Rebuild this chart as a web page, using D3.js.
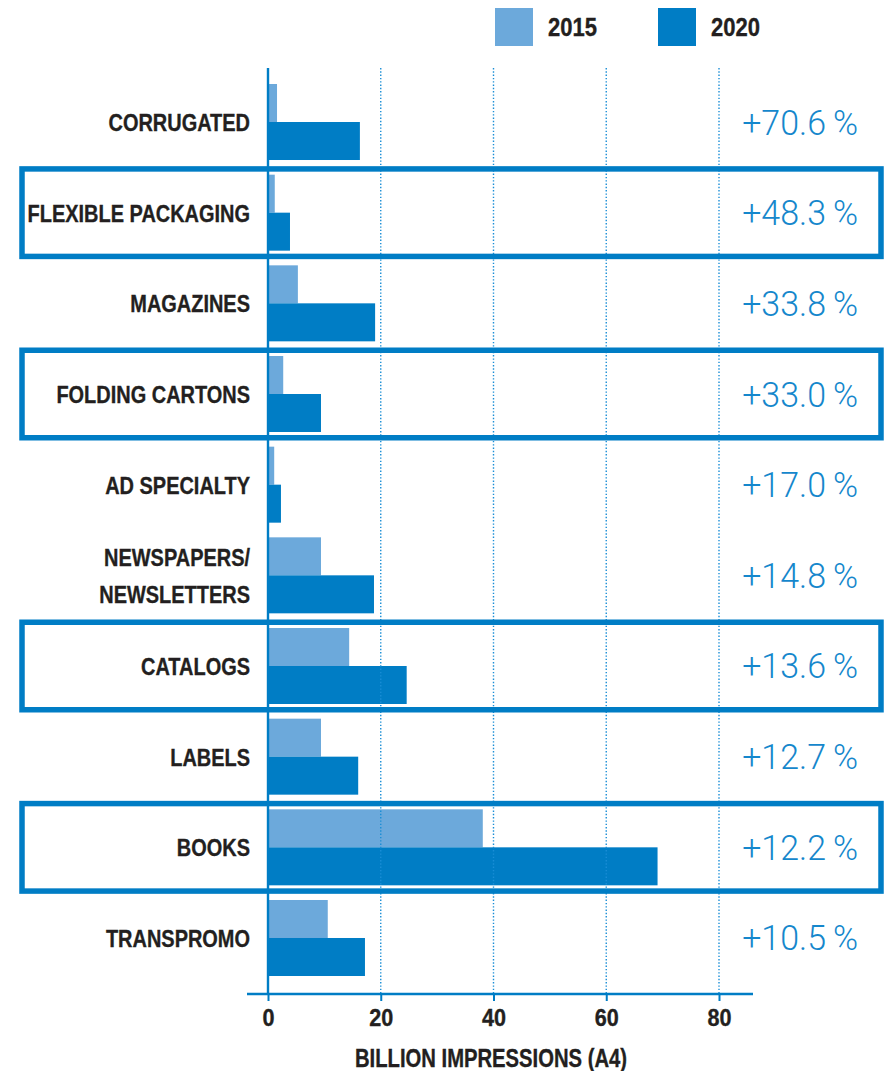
<!DOCTYPE html>
<html>
<head>
<meta charset="utf-8">
<script src="https://cdn.jsdelivr.net/npm/d3@7/dist/d3.min.js"></script>
<style>
  html, body { margin: 0; padding: 0; background: #fff; }
  svg { display: block; }
</style>
</head>
<body>
<script>
// ---- Data ----
const categories = ["CORRUGATED", "FLEXIBLE PACKAGING", "MAGAZINES", "FOLDING CARTONS", "AD SPECIALTY",
  "NEWSPAPERS/\nNEWSLETTERS", "CATALOGS", "LABELS", "BOOKS", "TRANSPROMO"];
const values2015 = [1.6, 1.2, 5.3, 2.7, 1.1, 9.4, 14.4, 9.4, 38.1, 10.6];
const values2020 = [16.3, 3.9, 19.0, 9.4, 2.3, 18.8, 24.6, 16.0, 69.1, 17.2];
const growth = ["+70.6\u2009%", "+48.3\u2009%", "+33.8\u2009%", "+33.0\u2009%", "+17.0\u2009%",
  "+14.8\u2009%", "+13.6\u2009%", "+12.7\u2009%", "+12.2\u2009%", "+10.5\u2009%"];
const highlighted = ["FLEXIBLE PACKAGING", "FOLDING CARTONS", "CATALOGS", "BOOKS"];
const seriesNames = ["2015", "2020"];
const xTicks = [0, 20, 40, 60, 80];
const axisTitle = "BILLION IMPRESSIONS (A4)";

// ---- Styles ----
const LIGHT = "#6ca9db", DARK = "#007dc5", TEXT = "#231f20", PCT = "#1587cc";
const BOLD = "'Liberation Sans', Arial, sans-serif";
const LIGHTFONT = "Roboto, 'Liberation Sans', sans-serif";

const W = 890, H = 1071;
const svg = d3.select("body").append("svg").attr("width", W).attr("height", H);

// condensed text helper: horizontal scale applied around the anchor point
function ctext(parent, tx, ty, sx, anchor) {
  return parent.append("g").attr("transform", `translate(${tx},${ty}) scale(${sx},1)`)
    .append("text").attr("x", 0).attr("y", 0).attr("text-anchor", anchor);
}
function boldText(sel, size) {
  return sel.attr("font-family", BOLD).attr("font-weight", "bold").attr("font-size", size)
    .attr("fill", TEXT).attr("stroke", TEXT).attr("stroke-width", 0.35);
}

const x = d3.scaleLinear().domain([0, 80]).range([268, 719]);
const y = d3.scaleBand().domain(categories).range([76.67, 983.33]).padding(0);
const step = y.step();
const sub = d3.scaleBand().domain(seriesNames).range([step / 2 - 38, step / 2 + 38]).padding(0);

const rows = categories.map((c, i) => ({ c, v: [values2015[i], values2020[i]], g: growth[i] }));

// bars
const rowG = svg.append("g").selectAll("g").data(rows).join("g")
  .attr("transform", d => `translate(0,${y(d.c)})`);
rowG.selectAll("rect").data(d => seriesNames.map((s, j) => ({ s, v: d.v[j] }))).join("rect")
  .attr("x", x(0))
  .attr("y", d => sub(d.s))
  .attr("width", d => x(d.v) - x(0))
  .attr("height", sub.bandwidth())
  .attr("fill", d => d.s === "2015" ? LIGHT : DARK);

// gridlines (dotted)
svg.append("g").selectAll("line").data(xTicks.filter(t => t > 0)).join("line")
  .attr("x1", d => x(d)).attr("x2", d => x(d))
  .attr("y1", 68).attr("y2", 994)
  .attr("stroke", "#1a8ed6").attr("stroke-width", 1.4)
  .attr("stroke-dasharray", "1.4,1.9");

// highlight boxes
svg.append("g").selectAll("rect").data(highlighted).join("rect")
  .attr("x", 22).attr("width", 881 - 22)
  .attr("y", d => y(d) + step / 2 - 43.75)
  .attr("height", 87.5)
  .attr("fill", "none").attr("stroke", DARK).attr("stroke-width", 5.5);

// vertical axis line
svg.append("line").attr("x1", x(0)).attr("x2", x(0)).attr("y1", 68).attr("y2", 994)
  .attr("stroke", DARK).attr("stroke-width", 2.4);

// x axis
const xAxis = d3.axisBottom(x).tickValues(xTicks).tickSize(7).tickFormat("").tickSizeOuter(0);
const ax = svg.append("g").attr("transform", "translate(0,994)").call(xAxis);
ax.select(".domain").remove();
ax.append("line").attr("x1", 247).attr("x2", 753).attr("y1", 0).attr("y2", 0)
  .attr("stroke", DARK).attr("stroke-width", 2.4);
ax.selectAll(".tick line").attr("stroke", DARK).attr("stroke-width", 2);
ax.selectAll(".tick").each(function (d) {
  boldText(ctext(d3.select(this), 0, 32, 0.9, "middle"), 24).text(d);
});

boldText(ctext(svg, 491, 1067, 0.81, "middle"), 25).text(axisTitle);

// category labels
rowG.each(function (d) {
  const lines = d.c.split("\n");
  const lh = 37;
  lines.forEach((ln, k) => {
    boldText(ctext(d3.select(this), 250, step / 2 + 8.9 + (k - (lines.length - 1) / 2) * lh, 0.815, "end"), 24.5)
      .text(ln);
  });
});

// growth labels
rowG.each(function (d) {
  ctext(d3.select(this), 858, step / 2 + 12.5, 0.97, "end")
    .attr("font-family", LIGHTFONT).attr("font-weight", 300).attr("font-size", 35).attr("fill", PCT)
    .text(d.g);
});

// legend
const legX = [495, 658];
const leg = svg.append("g").selectAll("g").data(seriesNames).join("g")
  .attr("transform", (d, i) => `translate(${legX[i]},8)`);
leg.append("rect").attr("width", 38).attr("height", 38)
  .attr("fill", d => d === "2015" ? LIGHT : DARK);
leg.each(function (d) {
  boldText(ctext(d3.select(this), 53, 28, 0.88, "start"), 25).text(d);
});
</script>
</body>
</html>
